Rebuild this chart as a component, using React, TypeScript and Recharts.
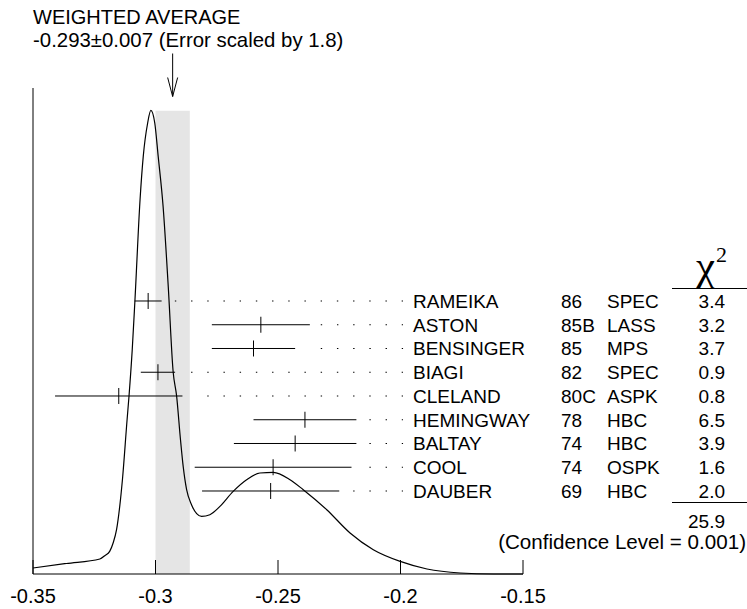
import {
  ComposedChart,
  Line,
  Scatter,
  ErrorBar,
  XAxis,
  YAxis,
  ReferenceArea,
  ReferenceLine,
} from "recharts";

// measurements, top row first
const NAMES = ["RAMEIKA", "ASTON", "BENSINGER", "BIAGI", "CLELAND", "HEMINGWAY", "BALTAY", "COOL", "DAUBER"];
const YEARS = ["86", "85B", "85", "82", "80C", "78", "74", "74", "69"];
const TECHNIQUES = ["SPEC", "LASS", "MPS", "SPEC", "ASPK", "HBC", "HBC", "OSPK", "HBC"];
const VALUES = [-0.303, -0.257, -0.26, -0.299, -0.315, -0.239, -0.243, -0.252, -0.253];
const ERRORS = [0.0055, 0.02, 0.017, 0.007, 0.026, 0.021, 0.025, 0.032, 0.028];
const CHI2 = ["3.4", "3.2", "3.7", "0.9", "0.8", "6.5", "3.9", "1.6", "2.0"];

// ideogram curve
const CURVE_X = [
  -0.35, -0.3364, -0.3227, -0.3207, -0.3187, -0.3173, -0.3159, -0.3146, -0.3135, -0.3116,
  -0.3108, -0.3095, -0.3084, -0.3063, -0.305, -0.3032, -0.3019, -0.3003, -0.2989, -0.2969,
  -0.2948, -0.2928, -0.2914, -0.2898, -0.2887, -0.2873, -0.2853, -0.2832, -0.2812, -0.2778,
  -0.2737, -0.2683, -0.2628, -0.2574, -0.2519, -0.2451, -0.2397, -0.2301, -0.2206, -0.2111,
  -0.2001, -0.1892, -0.1756, -0.1621, -0.15,
];
const CURVE_Y = [
  0.0123, 0.0216, 0.0309, 0.0377, 0.0465, 0.0638, 0.0911, 0.1391, 0.194, 0.3175,
  0.3667, 0.4611, 0.5623, 0.7706, 0.8593, 0.928, 0.9539, 0.928, 0.8593, 0.7564,
  0.5918, 0.4163, 0.3669, 0.2763, 0.2214, 0.1735, 0.1426, 0.1241, 0.1185, 0.122,
  0.1391, 0.17, 0.194, 0.2078, 0.2091, 0.194, 0.1735, 0.1323, 0.0844, 0.05,
  0.0259, 0.0103, 0.0021, 0, 0,
];

const X_TICKS = [-0.35, -0.3, -0.25, -0.2, -0.15];
const X_TICK_LABELS = ["-0.35", "-0.3", "-0.25", "-0.2", "-0.15"];

const WEIGHTED_AVG = -0.293;
const WEIGHTED_ERR = 0.007;
const SCALE_FACTOR = "1.8";
const CHI2_TOTAL = "25.9";
const CONFIDENCE = "0.001";

// dot leaders sit on a fixed grid between the bars and the names
const DOT_START = -0.2921;
const DOT_STEP = 0.006617;
const DOT_COUNT = 15;
const DOT_GAP = 0.0041;

const FONT = "'Liberation Sans', Arial, Helvetica, sans-serif";

const curveData = CURVE_X.map((x, i) => ({ x, d: CURVE_Y[i] }));
const rowData = VALUES.map((x, i) => ({
  x,
  row: i,
  err: ERRORS[i],
  name: NAMES[i],
  year: YEARS[i],
  tech: TECHNIQUES[i],
  chi2: CHI2[i],
}));
const arrowData = [{ x: WEIGHTED_AVG, d: 0.9825 }];

const dotEnd = DOT_START + (DOT_COUNT - 1) * DOT_STEP + 0.0005;
const leaders = VALUES.map((v, i) => {
  const k = Math.max(0, Math.ceil((v + ERRORS[i] + DOT_GAP - DOT_START) / DOT_STEP));
  return { row: i, start: DOT_START + k * DOT_STEP };
});

function MeasurementShape(props: any) {
  const { cx, cy, payload } = props;
  return (
    <g>
      <line x1={cx} x2={cx} y1={cy - 8} y2={cy + 8} stroke="#000" strokeWidth={1} />
      <g fontSize={19} fill="#000">
        <text x={413} y={cy + 7}>{payload.name}</text>
        <text x={561} y={cy + 7}>{payload.year}</text>
        <text x={607} y={cy + 7}>{payload.tech}</text>
        <text x={725} y={cy + 7} textAnchor="end">{payload.chi2}</text>
      </g>
    </g>
  );
}

function AnnotationShape(props: any) {
  const { cx, cy } = props;
  return (
    <g fill="#000">
      <text x={33} y={24} fontSize={20}>WEIGHTED AVERAGE</text>
      <text x={33} y={47} fontSize={20.4}>
        {`${WEIGHTED_AVG.toFixed(3)}\u00b1${WEIGHTED_ERR.toFixed(3)} (Error scaled by ${SCALE_FACTOR})`}
      </text>
      <line x1={cx} x2={cx} y1={cy - 43} y2={cy} stroke="#000" />
      <polyline points={`${cx - 5},${cy - 19} ${cx},${cy} ${cx + 5},${cy - 19}`} fill="none" stroke="#000" />
      <text x={696} y={280} fontSize={43} fontFamily="'Liberation Serif', 'Times New Roman', serif">
        χ<tspan fontSize={22} dy={-18} dx={1}>2</tspan>
      </text>
      <line x1={672} x2={747} y1={288.5} y2={288.5} stroke="#000" />
      <line x1={672} x2={747} y1={502.5} y2={502.5} stroke="#000" />
      <text x={725} y={528} fontSize={19} textAnchor="end">{CHI2_TOTAL}</text>
      <text x={746} y={549} fontSize={20.6} textAnchor="end">{`(Confidence Level = ${CONFIDENCE})`}</text>
    </g>
  );
}

function XTick(props: any) {
  const { x, y, payload } = props;
  const i = X_TICKS.indexOf(payload.value);
  return (
    <g>
      <line x1={x} x2={x} y1={y} y2={y - 14} stroke="#000" />
      <text x={x} y={y + 29} textAnchor="middle" fontSize={20} fill="#000">
        {i >= 0 ? X_TICK_LABELS[i] : String(payload.value)}
      </text>
    </g>
  );
}

export default function App() {
  return (
    <div style={{ position: "absolute", left: 0, top: 0, width: 747, height: 609, background: "#fff", fontFamily: FONT }}>
      <ComposedChart width={747} height={609} margin={{ top: 88, right: 224, bottom: 5, left: 33 }}>
        <XAxis
          type="number"
          dataKey="x"
          domain={[-0.35, -0.15]}
          ticks={X_TICKS}
          interval={0}
          height={30}
          tickSize={0}
          tickMargin={0}
          tickLine={false}
          axisLine={{ stroke: "#000" }}
          tick={<XTick />}
        />
        <YAxis yAxisId="d" type="number" dataKey="d" domain={[0, 1]} hide />
        <YAxis yAxisId="r" type="number" dataKey="row" domain={[-8.968, 11.495]} reversed hide />
        <ReferenceArea
          yAxisId="d"
          x1={WEIGHTED_AVG - WEIGHTED_ERR}
          x2={WEIGHTED_AVG + WEIGHTED_ERR}
          y1={0}
          y2={0.953}
          fill="#e5e5e5"
          fillOpacity={1}
          stroke="none"
        />
        <ReferenceLine yAxisId="d" x={-0.35} stroke="#000" strokeWidth={1} />
        {leaders.map((l) => (
          <ReferenceLine
            key={l.row}
            yAxisId="r"
            segment={[
              { x: l.start, y: l.row },
              { x: dotEnd, y: l.row },
            ]}
            stroke="#000"
            strokeWidth={1.2}
            strokeDasharray="1.4 14.8"
            ifOverflow="visible"
          />
        ))}
        <Line
          yAxisId="d"
          data={curveData}
          dataKey="d"
          type="monotone"
          stroke="#000"
          strokeWidth={1.2}
          dot={false}
          activeDot={false}
          isAnimationActive={false}
        />
        <Scatter
          yAxisId="r"
          data={rowData}
          dataKey="row"
          shape={<MeasurementShape />}
          isAnimationActive={false}
        >
          <ErrorBar dataKey="err" direction="x" width={0} stroke="#000" strokeWidth={1} />
        </Scatter>
        <Scatter
          yAxisId="d"
          data={arrowData}
          dataKey="d"
          shape={<AnnotationShape />}
          isAnimationActive={false}
        />
      </ComposedChart>
    </div>
  );
}
